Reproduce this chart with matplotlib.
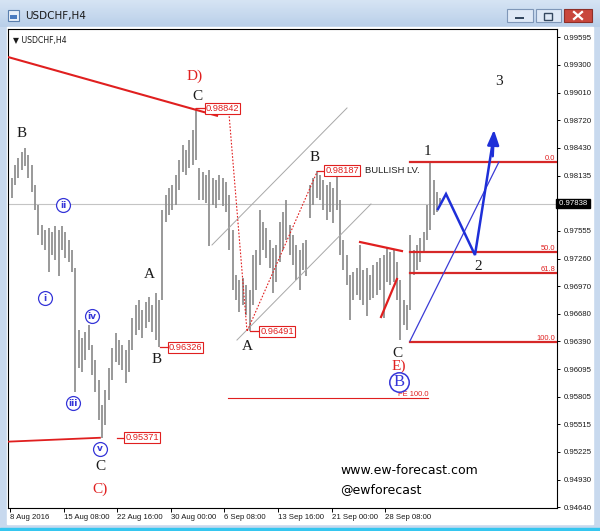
import matplotlib
matplotlib.use("Agg")
import matplotlib.pyplot as plt
import numpy as np
from matplotlib.patches import Rectangle, Polygon

# ---------------- data ----------------
# H4 bars, sampled every second bar: highs and lows
bar_high = [0.9804, 0.9811, 0.9825, 0.9832, 0.9838, 0.9842, 0.9835, 0.9825, 0.9804, 0.9782,
            0.9761, 0.9756, 0.9758, 0.9754, 0.9760, 0.9756, 0.9760, 0.9754, 0.9746, 0.9735,
            0.9716, 0.9651, 0.9642, 0.9649, 0.9656, 0.9635, 0.9619, 0.9598, 0.9572, 0.9587,
            0.9611, 0.9632, 0.9648, 0.9640, 0.9635, 0.9630, 0.9640, 0.9663, 0.9677, 0.9682,
            0.9672, 0.9680, 0.9685, 0.9677, 0.9690, 0.9682, 0.9777, 0.9793, 0.9800, 0.9804,
            0.9814, 0.9830, 0.9846, 0.9840, 0.9851, 0.9861, 0.98842, 0.9821, 0.9817, 0.9814,
            0.9819, 0.9811, 0.9809, 0.9814, 0.9811, 0.9807, 0.9793, 0.9756, 0.9709, 0.9703,
            0.9705, 0.9698, 0.9693, 0.9730, 0.9735, 0.9777, 0.9765, 0.9758, 0.9746, 0.9737,
            0.9740, 0.9765, 0.9775, 0.9788, 0.9761, 0.9751, 0.9740, 0.9735, 0.9742, 0.9746,
            0.9804, 0.9811, 0.98187, 0.9814, 0.9809, 0.9804, 0.9807, 0.9800, 0.9813, 0.9788,
            0.9746, 0.9730, 0.9709, 0.9712, 0.9716, 0.9740, 0.9714, 0.9716, 0.9709, 0.9719,
            0.9722, 0.9727, 0.9730, 0.9737, 0.9733, 0.9735, 0.9722, 0.9703, 0.9682, 0.9677,
            0.9751, 0.9735, 0.9740, 0.9748, 0.9754, 0.9782, 0.9828, 0.9809, 0.9796, 0.9790]
bar_low = [0.9788, 0.9790, 0.9804, 0.9811, 0.9819, 0.9824, 0.9811, 0.9796, 0.9777, 0.9751,
           0.9740, 0.9735, 0.9712, 0.9730, 0.9724, 0.9708, 0.9735, 0.9727, 0.9722, 0.9712,
           0.9585, 0.9611, 0.9606, 0.9619, 0.9630, 0.9603, 0.9585, 0.9556, 0.95371, 0.9551,
           0.9577, 0.9598, 0.9617, 0.9614, 0.9609, 0.9595, 0.9606, 0.9630, 0.9645, 0.9651,
           0.9642, 0.9653, 0.9659, 0.9649, 0.9640, 0.96326, 0.9682, 0.9765, 0.9772, 0.9777,
           0.9782, 0.9798, 0.9817, 0.9814, 0.9821, 0.9825, 0.9830, 0.9788, 0.9788, 0.9785,
           0.9739, 0.9782, 0.9779, 0.9788, 0.9781, 0.9775, 0.9735, 0.9693, 0.9682, 0.9670,
           0.9677, 0.9666, 0.96491, 0.9677, 0.9693, 0.9719, 0.9735, 0.9727, 0.9716, 0.9690,
           0.9701, 0.9722, 0.9735, 0.9746, 0.9730, 0.9719, 0.9703, 0.9693, 0.9714, 0.9708,
           0.9769, 0.9782, 0.9790, 0.9788, 0.9777, 0.9767, 0.9775, 0.9763, 0.9777, 0.9730,
           0.9714, 0.9698, 0.9661, 0.9682, 0.9688, 0.9682, 0.9677, 0.9665, 0.9682, 0.9684,
           0.9688, 0.9693, 0.9663, 0.9701, 0.9698, 0.9701, 0.9682, 0.9640, 0.9656, 0.9651,
           0.9672, 0.9709, 0.9714, 0.9722, 0.9733, 0.9746, 0.9756, 0.9772, 0.9775, 0.9781]
last_price = 0.97838

x_tick_bars = [0, 32, 64, 96, 128, 160, 192, 224]
x_tick_labels = ["8 Aug 2016", "15 Aug 08:00", "22 Aug 16:00", "30 Aug 00:00",
                 "6 Sep 08:00", "13 Sep 16:00", "21 Sep 00:00", "28 Sep 08:00"]
y_ticks = [0.99595, 0.99300, 0.99010, 0.98720, 0.98430, 0.98135, 0.97555, 0.97260,
           0.96970, 0.96680, 0.96390, 0.96095, 0.95805, 0.95515, 0.95225, 0.94930, 0.94640]
y_tick_labels = ["%.5f" % v for v in y_ticks]

# pivot price tags: (bar index, price, label left offset in bars, leader start offset)
price_tags = [(111, 0.98842, 5.5, 0.3), (183, 0.98187, 4.8, 0.3), (143, 0.96491, 6.0, 0.5),
              (89, 0.96326, 5.3, 0.5), (55, 0.95371, 13.5, 9.0)]

# Elliott wave labels (bar index, price, text)
black_labels = [(7.2, 0.98583, "B"), (112.2, 0.98973, "C"), (83.0, 0.97087, "A"),
                (87.8, 0.96191, "B"), (141.5, 0.96338, "A"), (182.1, 0.98320, "B"),
                (231.6, 0.96264, "C"), (53.7, 0.95073, "C"), (249.0, 0.98383, "1"),
                (279.4, 0.97171, "2"), (291.9, 0.99121, "3")]
red_labels = [(110.4, 0.99184, "D)"), (232.2, 0.96127, "E)"), (53.7, 0.94831, "C)")]
circle_labels = [(20.9, 0.96844, "i"), (31.6, 0.97824, "ii"), (37.6, 0.95737, "iii"),
                 (49.0, 0.96654, "iv"), (53.7, 0.95253, "v")]
big_circle = (232.2, 0.95959, "B")

# analyst lines (bar index, price)
red_trend_top = ([-1.2, 124.2], [0.99384, 0.98762])
red_trend_low = ([-1.2, 53.7], [0.95330, 0.95371])
red_wedge_a = ([209.0, 234.0], [0.97434, 0.97339])
red_wedge_b = ([221.5, 231.0], [0.96644, 0.97044])
red_dotted = ([130.7, 141.5, 183.3], [0.98794, 0.96491, 0.98172])
chan_upper = ([120.6, 201.2], [0.97403, 0.98847])
chan_lower = ([135.5, 215.5], [0.96401, 0.97835])
fe_line = ([130.1, 249.6], [0.95790, 0.95790])
fib_start = 238.8
fib_high, fib_low = 0.9828, 0.9638
fib_levels = [0.0, 50.0, 61.8, 100.0]
blue_thin = ([238.8, 291.9], [0.96391, 0.98278])
blue_path = ([255.5, 260.3, 277.6, 288.4], [0.97782, 0.97940, 0.97297, 0.98509])
blue_tip = (289.0, 0.98646)

# ---------------- figure & window chrome ----------------
W, H = 600, 531
sans = ["Liberation Sans", "DejaVu Sans"]
fig = plt.figure(figsize=(6.0, 5.31), dpi=100)
bg = fig.add_axes([0, 0, 1, 1])
bg.set_xlim(0, W)
bg.set_ylim(H, 0)
bg.axis("off")
bg.add_patch(Rectangle((0, 0), W, H, color="#c8d9ee", zorder=0))
grad = np.linspace(0, 1, 50).reshape(-1, 1)
bg.imshow(grad, extent=(0, W, 27, 0), cmap=matplotlib.colors.LinearSegmentedColormap.from_list(
    "t", ["#d6e4f4", "#b9cfe9"]), aspect="auto", zorder=1)
bg.add_patch(Rectangle((7, 27), 586, 497, color="white", zorder=1))
bg.add_patch(Rectangle((0, 528), W, 3, color="#35c6ef", zorder=1))
# title icon + text
bg.add_patch(Rectangle((8, 10), 11, 11, fc="#e8f0fa", ec="#5a7fae", lw=0.8, zorder=2))
bg.add_patch(Rectangle((10, 15), 7, 4, fc="#4a7bc0", ec="none", zorder=3))
bg.text(25, 16.5, "USDCHF,H4", fontsize=7.5, va="center", ha="left", color="#1a1a1a", zorder=3)
# buttons
for x0, w0, fc, ec in [(507, 26, "#dfe9f6", "#7f97b8"), (536, 25, "#dfe9f6", "#7f97b8"),
                       (564, 28, "#c9473d", "#8e2f28")]:
    bg.add_patch(Rectangle((x0, 9), w0, 13, fc=fc, ec=ec, lw=0.8, zorder=2))
bg.add_patch(Rectangle((515, 16.5), 9, 2, fc="#34485f", ec="none", zorder=3))
bg.add_patch(Rectangle((544, 12.5), 8, 7, fc="none", ec="#34485f", lw=1.0, zorder=3))
bg.plot([574, 582], [12, 19], color="white", lw=1.6, zorder=3)
bg.plot([574, 582], [19, 12], color="white", lw=1.6, zorder=3)
# chart shift marker
bg.add_patch(Polygon([[433, 29], [441, 29], [437, 33]], closed=True, fc="#a0a0a0", ec="none", zorder=5))

# ---------------- main chart ----------------
x0p, x1p, y0p, y1p = 8, 557, 29, 508
ax = fig.add_axes([x0p / W, 1 - y1p / H, (x1p - x0p) / W, (y1p - y0p) / H])
ax.set_facecolor("white")
px_per_bar = 1.675
ax.set_xlim((x0p - 10) / px_per_bar, (x1p - 10) / px_per_bar)
ax.set_ylim(0.99985 - 0.0001054 * y1p, 0.99985 - 0.0001054 * y0p)
for s in ax.spines.values():
    s.set_color("black")
    s.set_linewidth(0.8)

n = len(bar_high)
bx = np.arange(n) * 2 - 1
ax.vlines(bx, bar_low, bar_high, color="#8c8c8c", lw=1.25, zorder=2)

# current price line
ax.axhline(last_price, color="#c4c4c4", lw=0.8, zorder=1)

# ticks
ax.set_xticks(x_tick_bars)
ax.set_xticklabels(x_tick_labels, family=sans)
for lab in ax.get_xticklabels():
    lab.set_ha("left")
ax.tick_params(axis="x", direction="out", length=3, width=0.7, labelsize=5.6, pad=1.5,
               color="black", labelcolor="#1a1a1a")
ax.yaxis.tick_right()
ax.set_yticks(y_ticks)
ax.set_yticklabels(y_tick_labels, family=sans)
ax.tick_params(axis="y", direction="out", length=2.5, width=0.7, labelsize=5.6, pad=2,
               color="black", labelcolor="#1a1a1a")
ax.text(1.0, last_price, " %.5f " % last_price, transform=ax.get_yaxis_transform(),
        fontsize=5.6, family=sans, color="white", va="center", ha="left",
        bbox=dict(boxstyle="square,pad=0.1", fc="black", ec="black"), zorder=10,
        clip_on=False)
ax.text(0.01, 0.985, "\u25bc USDCHF,H4", transform=ax.transAxes, fontsize=5.6,
        va="top", ha="left", color="#1a1a1a")

red = "#e01f1f"
# trend lines
ax.plot(*red_trend_top, color=red, lw=1.5, zorder=4, solid_capstyle="butt")
ax.plot(*red_trend_low, color=red, lw=1.3, zorder=4)
ax.plot(*red_wedge_a, color=red, lw=1.6, zorder=4)
ax.plot(*red_wedge_b, color=red, lw=1.6, zorder=4)
ax.plot(*red_dotted, color=red, lw=0.8, ls=(0, (1.5, 1.5)), zorder=4)
ax.plot(*chan_upper, color="#a8a8a8", lw=0.7, zorder=3)
ax.plot(*chan_lower, color="#a8a8a8", lw=0.7, zorder=3)
ax.plot(*fe_line, color=red, lw=0.8, zorder=4)
ax.text(fe_line[0][1], fe_line[1][1], "FE 100.0", color=red, fontsize=5.4, family=sans,
        ha="right", va="bottom")

# fibonacci levels
xr = ax.get_xlim()[1]
for lv in fib_levels:
    p = fib_high - lv / 100.0 * (fib_high - fib_low)
    ax.plot([fib_start, xr], [p, p], color="#d62828", lw=1.6, zorder=4)
    ax.text(xr - 1.0, p, "%.1f" % lv, color=red, fontsize=5.4, family=sans,
            ha="right", va="bottom")

# price tags
for bi, pr, off, lead in price_tags:
    ax.plot([bi + lead, bi + off], [pr, pr], color=red, lw=0.9, zorder=5)
    ax.text(bi + off + 0.4, pr, "%.5f" % pr, color=red, fontsize=6.7, family=sans,
            ha="left", va="center",
            bbox=dict(boxstyle="square,pad=0.12", fc="white", ec=red, lw=0.8), zorder=6)

ax.text(212.0, 0.98187, "BULLISH LV.", fontsize=6.8, family=sans, color="#222222",
        ha="left", va="center", zorder=6)

# blue projection
ax.plot(*blue_thin, color="#3b3bd6", lw=0.9, zorder=5)
ax.plot(*blue_path, color="#1e2fd8", lw=1.8, zorder=6, solid_joinstyle="miter")
ax.annotate("", xy=blue_tip, xytext=(blue_path[0][-1] - 0.3, blue_path[1][-1] - 0.002),
            arrowprops=dict(arrowstyle="-|>,head_length=0.9,head_width=0.35",
                            color="#1e2fd8", lw=1.8), zorder=6)

# wave labels
serif = ["Liberation Serif", "DejaVu Serif"]
for xx, yy, t in black_labels:
    ax.text(xx, yy, t, fontsize=11, family=serif, color="#1a1a1a", ha="center",
            va="center", zorder=7)
for xx, yy, t in red_labels:
    ax.text(xx, yy, t, fontsize=11, family=serif, color="#e02020", ha="center",
            va="center", zorder=7)
blue = "#3535d8"
for xx, yy, t in circle_labels:
    ax.plot([xx], [yy], marker="o", ms=10, mfc="white", mec=blue, mew=0.9, zorder=7)
    ax.text(xx, yy, t, fontsize=6.5, color=blue, ha="center", va="center", zorder=8,
            fontweight="bold")
ax.plot([big_circle[0]], [big_circle[1]], marker="o", ms=14, mfc="white", mec=blue,
        mew=1.1, zorder=7)
ax.text(big_circle[0], big_circle[1], big_circle[2], fontsize=12, family=serif, color=blue,
        ha="center", va="center", zorder=8)

# watermark
ax.text(197.0, 0.95030, "www.ew-forecast.com", fontsize=9.0, color="black", ha="left",
        va="center", zorder=7)
ax.text(197.0, 0.94830, "@ewforecast", fontsize=9.0, color="black", ha="left",
        va="center", zorder=7)

fig.savefig("out.png", dpi=100, facecolor=fig.get_facecolor())
